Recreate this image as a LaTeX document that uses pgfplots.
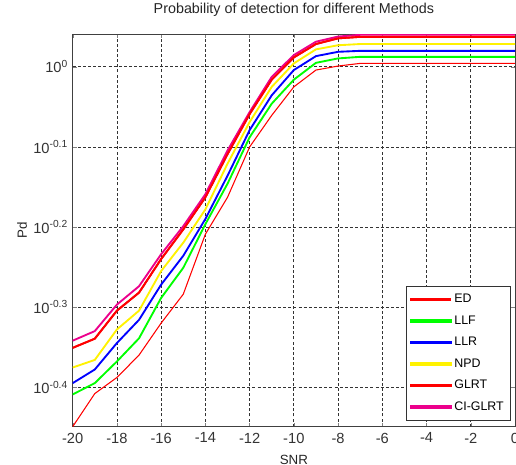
\documentclass[border=0pt]{standalone}
\usepackage{fontspec}
\setmainfont{Liberation Sans}
\usepackage{pgfplots}
\pgfplotsset{compat=1.18}

% Pd values (log axis), SNR -20..0
\pgfplotstableread{
snr  ed      llf     llr     npd     glrt    ciglrt
-20  0.3553  0.3899  0.4027  0.4212  0.4457  0.4550
-19  0.3908  0.4027  0.4188  0.4305  0.4576  0.4677
-18  0.4093  0.4286  0.4519  0.4699  0.4960  0.5047
-17  0.4365  0.4581  0.4831  0.4960  0.5224  0.5321
-16  0.4786  0.5145  0.5346  0.5559  0.5754  0.5834
-15  0.5200  0.5611  0.5808  0.6031  0.6266  0.6324
-14  0.6180  0.6361  0.6457  0.6637  0.6871  0.6934
-13  0.6871  0.7145  0.7311  0.7568  0.7780  0.7861
-12  0.7943  0.8166  0.8337  0.8531  0.8730  0.8780
-11  0.8698  0.8995  0.9214  0.9441  0.9638  0.9716
-10  0.9441  0.9638  0.9908  1.0100  1.0275  1.0344
-9   0.9908  1.0116  1.0313  1.0515  1.0678  1.0750
-8   1.0023  1.0245  1.0442  1.0641  1.0854  1.0910
-7   1.0100  1.0292  1.0471  1.0678  1.0901  1.0965
-6   1.0100  1.0292  1.0471  1.0678  1.0901  1.0965
-5   1.0100  1.0292  1.0471  1.0678  1.0901  1.0965
-4   1.0100  1.0292  1.0471  1.0678  1.0901  1.0965
-3   1.0100  1.0292  1.0471  1.0678  1.0901  1.0965
-2   1.0100  1.0292  1.0471  1.0678  1.0901  1.0965
-1   1.0100  1.0292  1.0471  1.0678  1.0901  1.0965
0    1.0100  1.0292  1.0471  1.0678  1.0901  1.0965
}\pd

\begin{document}
\begin{tikzpicture}
\begin{axis}[
    scale only axis,
    width=331.7pt, height=294.3pt,
    ymode=log,
    xmin=-20, xmax=0,
    ymin=0.35527, ymax=1.0982,
    xtick={-20,-18,...,0},
    ytick={0.398107,0.501187,0.630957,0.794328,1},
    yticklabels={10\textsuperscript{-0.4},10\textsuperscript{-0.3},10\textsuperscript{-0.2},10\textsuperscript{-0.1},10\textsuperscript{0}},
    minor tick num=0,
    /pgf/number format/assume math mode=true,
    font=\fontsize{10}{12}\selectfont,
    tick label style={font=\fontsize{11}{13}\selectfont, text=black!80},
    xticklabel style={yshift=-1pt},
    tick align=inside,
    major tick length=3pt,
    axis line style={draw=black!75, line width=0.6pt},
    grid=major,
    major grid style={black!80, line width=0.55pt, dash pattern=on 2.25pt off 1.6pt},
    title={Probability of detection for different Methods},
    title style={at={(rel axis cs:0.5,1)}, anchor=center, yshift=12pt, text=black!85,
        font=\fontsize{10.75}{12}\selectfont},
    xlabel={SNR},
    xlabel style={at={(rel axis cs:0.5,0)}, anchor=center, yshift=-24.75pt, text=black!85},
    ylabel={Pd},
    ylabel style={at={(rel axis cs:0,0.5)}, anchor=center, yshift=38pt, text=black!85},
    legend style={at={(rel axis cs:1,0)}, anchor=south east, xshift=-3.2pt, yshift=4.5pt,
        draw=black!80, font=\fontsize{9.3}{11}\selectfont,
        row sep=4.2pt, inner xsep=3pt, inner ysep=4pt},
    legend cell align=left,
    legend image code/.code={\fill[#1] (0pt,-0.75pt) rectangle (30pt,0.75pt);},
]
\addplot[color=red, line width=0.8pt] table[x=snr, y=ed] {\pd};
\addplot[color=green, line width=1.4pt] table[x=snr, y=llf] {\pd};
\addplot[color=blue, line width=1.4pt] table[x=snr, y=llr] {\pd};
\addplot[color=yellow, line width=1.4pt] table[x=snr, y=npd] {\pd};
\addplot[color=red, line width=1.4pt] table[x=snr, y=glrt] {\pd};
\addplot[color=magenta, line width=1.4pt] table[x=snr, y=ciglrt] {\pd};
\addplot[color=red, line width=1.4pt, forget plot] table[x=snr, y=glrt] {\pd};
\legend{ED,LLF,LLR,NPD,GLRT,CI-GLRT}
\end{axis}
\pgfresetboundingbox
\path[use as bounding box] (-54.5pt,-28pt) rectangle (332.45pt,320pt);
\end{tikzpicture}
\end{document}
